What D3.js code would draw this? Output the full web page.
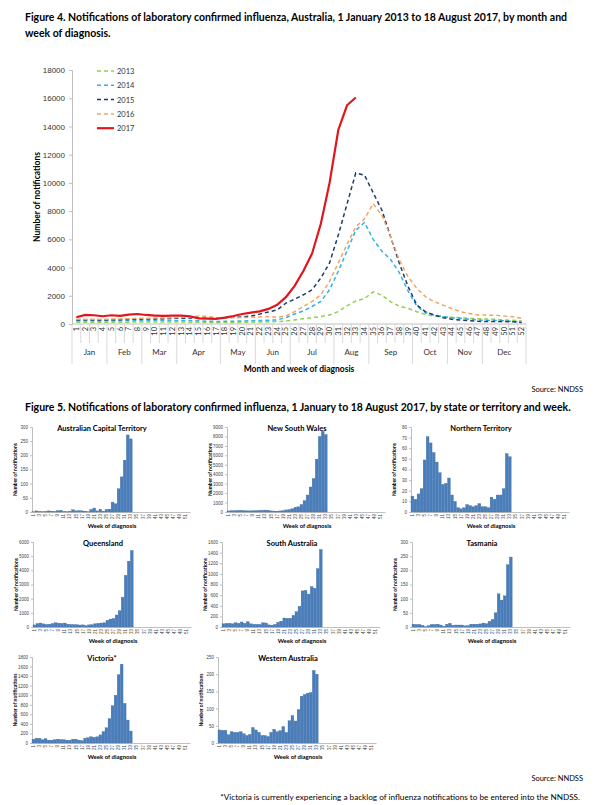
<!DOCTYPE html>
<html>
<head>
<meta charset="utf-8">
<script src="https://cdn.jsdelivr.net/npm/d3@7"></script>
<style>
  body { margin: 0; background: #fff; }
  svg { font-family: Lato, "Liberation Sans", sans-serif; }
  .ttl { font-weight: bold; font-size: 10.5px; fill: #000; }
</style>
</head>
<body>
<div id="chart"></div>
<script>
var weeks = [1,2,3,4,5,6,7,8,9,10,11,12,13,14,15,16,17,18,19,20,21,22,23,24,25,26,
  27,28,29,30,31,32,33,34,35,36,37,38,39,40,41,42,43,44,45,46,47,48,49,50,51,52];

var months = [
  {name: "Jan", first: 1, last: 4}, {name: "Feb", first: 5, last: 8},
  {name: "Mar", first: 9, last: 12}, {name: "Apr", first: 13, last: 17},
  {name: "May", first: 18, last: 21}, {name: "Jun", first: 22, last: 25},
  {name: "Jul", first: 26, last: 30}, {name: "Aug", first: 31, last: 34},
  {name: "Sep", first: 35, last: 39}, {name: "Oct", first: 40, last: 43},
  {name: "Nov", first: 44, last: 47}, {name: "Dec", first: 48, last: 52}
];

var years = ["2013", "2014", "2015", "2016", "2017"];

var y2013 = [120,120,110,110,120,130,130,140,140,150,140,140,140,130,120,100,100,100,110,120,
  130,140,160,170,210,290,380,450,520,640,880,1290,1640,1800,2280,2040,1570,1260,1100,870,
  680,560,520,470,450,400,380,350,330,280,260,230];
var y2014 = [230,230,220,220,230,240,240,250,250,260,260,250,250,240,230,200,180,190,200,210,
  230,250,270,290,450,710,930,1240,1600,2430,3740,5170,6640,7200,5990,5160,4570,3630,2330,1270,
  800,640,520,450,400,330,290,260,250,230,190,120];
var y2015 = [290,300,290,290,300,310,320,340,350,360,380,400,410,420,420,410,400,430,470,500,
  560,700,850,1000,1480,1760,2070,2430,3260,4330,6300,8500,10700,10550,9300,8060,6170,4290,2640,1340,
  870,630,450,330,280,240,190,170,170,170,160,100];
var y2016 = [330,340,330,330,350,360,380,400,400,420,420,440,460,500,560,540,440,430,440,460,
  470,500,520,476,570,880,1240,1600,2070,3020,4330,5640,6880,7450,8530,7700,6170,4520,3340,2520,
  1930,1580,1340,1100,870,750,630,630,620,560,520,400];
var y2017 = [480,640,620,550,620,570,660,710,640,600,570,590,590,550,400,380,360,450,570,710,
  810,900,1070,1360,1900,2700,3750,5000,7100,10000,13750,15500,16050];

var lineYears = [y2013, y2014, y2015, y2016, y2017];
var lineColors = ["#92d050", "#2fb3e6", "#1f3a68", "#f5a35f", "#e0161c"];

// weekly bars by state, weeks 1 to 33 of 2017
var act = [1,4,2,1,2,4,3,2,5,6,2,1,3,8,4,5,4,3,1,9,14,4,10,3,9,10,35,29,82,124,183,272,258];
var nsw = [120,150,140,160,180,150,130,120,130,140,170,180,200,190,120,100,90,110,150,220,
  260,350,500,550,800,1200,1800,2650,3550,5600,8000,8550,8200];
var nt = [15,12,17,22,49,71,65,56,47,37,26,27,32,16,10,4,3,4,7,6,5,6,8,5,5,4,14,12,16,16,22,55,52];
var qld = [150,250,280,220,180,200,250,300,270,250,280,200,180,170,160,140,150,100,150,170,
  230,260,280,300,480,560,600,850,1150,2100,3650,4650,5400];
var sa = [60,70,70,60,80,70,95,70,100,60,50,50,50,80,75,40,35,50,90,110,170,165,165,220,290,
  390,680,690,620,760,730,1100,1460];
var tas = [10,9,9,6,1,5,9,9,10,7,3,10,13,6,7,7,7,4,5,10,10,10,11,14,12,20,27,50,117,95,110,220,247];
var vic = [80,100,100,70,90,60,60,70,80,70,70,60,60,80,80,60,50,100,110,130,120,130,170,240,
  320,510,780,1000,1430,1650,830,480,250];
var wa = [38,37,37,24,33,31,31,33,27,22,25,45,38,31,22,22,19,31,40,33,36,48,31,65,80,64,97,
  136,141,145,147,211,200];

var oddWeeks = [1,3,5,7,9,11,13,15,17,19,21,23,25,27,29,31,33,35,37,39,41,43,45,47,49,51];

var svg = d3.select("#chart").append("svg")
  .attr("width", 596).attr("height", 805);

// ---------- Figure 4 ----------
svg.append("text").attr("class", "ttl").attr("x", 25).attr("y", 21)
  .text("Figure 4. Notifications of laboratory confirmed influenza, Australia, 1 January 2013 to 18 August 2017, by month and");
svg.append("text").attr("class", "ttl").attr("x", 25).attr("y", 37)
  .text("week of diagnosis.");

var x = d3.scaleBand().domain(weeks).range([72, 526]);
var y = d3.scaleLinear().domain([0, 18000]).range([324, 70]);
var bw = x.bandwidth();

var yAxis = svg.append("g")
  .attr("transform", "translate(72,0)")
  .call(d3.axisLeft(y).tickValues(d3.range(0, 18001, 2000)).tickFormat(d3.format("d"))
    .tickSize(3).tickPadding(4));
yAxis.selectAll("text").style("font-size", "8px").style("fill", "#333");
yAxis.selectAll("line,path").style("stroke", "#bfbfbf");

var xg = svg.append("g");
xg.append("line").attr("x1", 72).attr("x2", 526).attr("y1", 324).attr("y2", 324)
  .style("stroke", "#bfbfbf");
xg.selectAll(".wk").data(weeks).enter().append("text")
  .attr("transform", function (d) { return "translate(" + (x(d) + bw / 2 + 2.5) + ",327) rotate(-90)"; })
  .attr("text-anchor", "end")
  .style("font-size", "7.5px").style("fill", "#333")
  .text(function (d) { return d; });
xg.selectAll(".wsep").data(weeks.concat([53])).enter().append("line")
  .attr("x1", function (d) { return d == 53 ? 526 : x(d); })
  .attr("x2", function (d) { return d == 53 ? 526 : x(d); })
  .attr("y1", 324)
  .attr("y2", function (d) {
    var edge = d == 53 || months.some(function (m) { return m.first == d; });
    return edge ? 364 : 343;
  })
  .style("stroke", "#d0d0d0").style("stroke-width", 0.8);
xg.selectAll(".mon").data(months).enter().append("text")
  .attr("x", function (m) { return (x(m.first) + x(m.last) + bw) / 2; })
  .attr("y", 355)
  .attr("text-anchor", "middle")
  .style("font-size", "8px").style("fill", "#333")
  .text(function (m) { return m.name; });

svg.append("text").attr("x", 299).attr("y", 372).attr("text-anchor", "middle")
  .style("font-size", "8.5px").style("font-weight", "bold")
  .text("Month and week of diagnosis");
svg.append("text").attr("transform", "translate(40,197) rotate(-90)")
  .attr("text-anchor", "middle")
  .style("font-size", "8.5px").style("font-weight", "bold")
  .text("Number of notifications");

var line = d3.line()
  .x(function (d, i) { return x(weeks[i]) + bw / 2; })
  .y(function (d) { return y(d); });

lineYears.forEach(function (vals, i) {
  svg.append("path").datum(vals)
    .attr("d", line)
    .attr("fill", "none")
    .attr("stroke", lineColors[i])
    .attr("stroke-width", i == 4 ? 2.2 : 1.5)
    .attr("stroke-dasharray", i == 4 ? null : "4,3");
});

var leg = svg.append("g");
years.forEach(function (yr, i) {
  var ly = 71 + i * 14.3;
  leg.append("line").attr("x1", 97).attr("x2", 114).attr("y1", ly).attr("y2", ly)
    .attr("stroke", lineColors[i])
    .attr("stroke-width", i == 4 ? 2.2 : 1.5)
    .attr("stroke-dasharray", i == 4 ? null : "4,3");
  leg.append("text").attr("x", 117).attr("y", ly + 3)
    .style("font-size", "7.5px").style("fill", "#333").text(yr);
});

svg.append("text").attr("x", 583).attr("y", 392).attr("text-anchor", "end")
  .style("font-size", "7.5px").text("Source: NNDSS");

// ---------- Figure 5 ----------
svg.append("text").attr("class", "ttl").attr("x", 25).attr("y", 411)
  .text("Figure 5. Notifications of laboratory confirmed influenza, 1 January to 18 August 2017, by state or territory and week.");

function panel(name, vals, max, step, left, top, bottom) {
  var g = svg.append("g");
  var px = d3.scaleBand().domain(weeks).range([left, left + 158]).paddingInner(0.08);
  var py = d3.scaleLinear().domain([0, max]).range([bottom, top]);

  var ya = g.append("g").attr("transform", "translate(" + left + ",0)")
    .call(d3.axisLeft(py).tickValues(d3.range(0, max + step / 2, step)).tickFormat(d3.format("d"))
      .tickSize(2).tickPadding(2));
  ya.selectAll("text").style("font-size", "4.5px").style("fill", "#444");
  ya.selectAll("line,path").style("stroke", "#bfbfbf");

  var xa = g.append("g").attr("transform", "translate(0," + bottom + ")")
    .call(d3.axisBottom(px).tickValues(oddWeeks).tickSize(0).tickPadding(2));
  xa.selectAll("path").style("stroke", "#bfbfbf");
  xa.selectAll("text")
    .style("font-size", "4.5px").style("fill", "#444")
    .attr("transform", "rotate(-90)")
    .attr("text-anchor", "end")
    .attr("x", -2).attr("y", 0).attr("dy", "0.35em");

  g.selectAll("rect").data(vals).enter().append("rect")
    .attr("x", function (d, i) { return px(weeks[i]); })
    .attr("width", px.bandwidth())
    .attr("y", function (d) { return py(d); })
    .attr("height", function (d) { return bottom - py(d); })
    .attr("fill", "#4a7ebb")
    .attr("stroke", "#3d6ba3").attr("stroke-width", 0.3);

  g.append("text").attr("x", left + 70).attr("y", top + 4).attr("text-anchor", "middle")
    .style("font-size", "7.5px").style("font-weight", "bold").text(name);
  g.append("text").attr("x", left + 80).attr("y", bottom + 16).attr("text-anchor", "middle")
    .style("font-size", "6px").style("font-weight", "bold").text("Week of diagnosis");
  g.append("text")
    .attr("transform", "translate(" + (left - 15) + "," + ((top + bottom) / 2) + ") rotate(-90)")
    .attr("text-anchor", "middle")
    .style("font-size", "5px").style("font-weight", "bold").text("Number of notifications");
}

panel("Australian Capital Territory", act, 300, 50, 32, 427, 512);
panel("New South Wales", nsw, 9000, 1000, 227, 427, 512);
panel("Northern Territory", nt, 80, 10, 411, 427, 512);
panel("Queensland", qld, 6000, 1000, 33, 542, 627);
panel("South Australia", sa, 1600, 200, 222, 542, 627);
panel("Tasmania", tas, 300, 50, 412, 542, 627);
panel("Victoria*", vic, 1800, 200, 32, 657, 743);
panel("Western Australia", wa, 250, 50, 218, 657, 743);

svg.append("text").attr("x", 583).attr("y", 781).attr("text-anchor", "end")
  .style("font-size", "7.5px").text("Source: NNDSS");
svg.append("text").attr("x", 580).attr("y", 800).attr("text-anchor", "end")
  .style("font-size", "8.2px").text("*Victoria is currently experiencing a backlog of influenza notifications to be entered into the NNDSS.");
</script>
</body>
</html>
